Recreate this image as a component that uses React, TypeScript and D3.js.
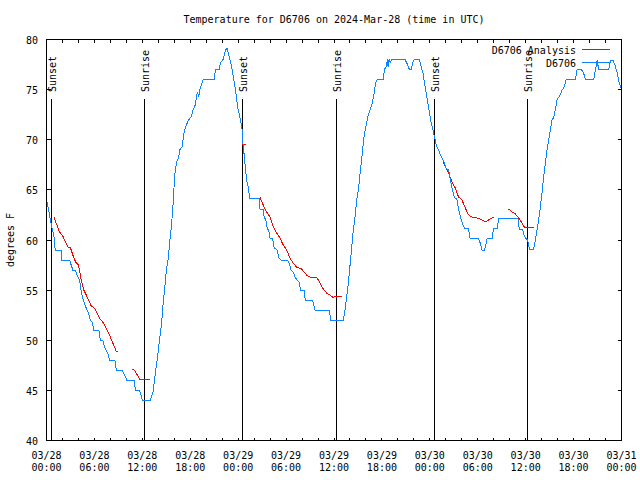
import React from 'react';
import * as d3 from 'd3';

// hours since 2024-03-28 00:00 UTC
const obsHours = [
  0, 0.54, 0.97, 1.09, 1.88, 1.9, 2.89, 3.3, 3.64, 3.8, 4.14, 4.39, 4.6, 4.98, 5.27, 5.48, 5.73, 5.93, 6.56, 6.74,
  7.06, 7.28, 7.69, 7.9, 8.57, 8.74, 9.5, 10.07, 11.0, 11.13, 11.67, 12.0, 13.0, 13.33, 13.55, 13.76, 13.96, 14.17, 14.39, 14.59,
  14.8, 15.01, 15.22, 15.43, 15.64, 15.84, 16.06, 16.27, 16.56, 16.68, 16.97, 17.22, 17.52, 17.81, 18.15, 18.35, 18.65, 18.78, 18.9, 19.07,
  19.19, 19.48, 19.61, 20.99, 21.16, 21.61, 21.79, 22.11, 22.42, 22.62, 22.87, 23.17, 23.46, 23.71, 23.92, 24.21, 24.5, 24.55, 24.75, 25.05,
  25.25, 25.46, 26.63, 26.72, 27.13, 27.26, 27.47, 27.63, 27.85, 27.97, 28.31, 28.51, 28.89, 29.1, 29.35, 30.14, 30.39, 30.61, 30.9, 31.11,
  31.4, 31.65, 31.82, 32.24, 32.4, 33.33, 33.62, 35.41, 35.59, 37.17, 37.38, 37.59, 37.79, 38.01, 38.22, 38.42, 38.63, 38.85, 39.05, 39.35,
  39.55, 39.76, 39.98, 40.3, 40.52, 40.73, 40.93, 41.23, 41.43, 42.19, 42.31, 42.52, 42.69, 42.77, 42.9, 43.03, 43.24, 44.91, 45.2, 45.45,
  45.66, 45.87, 46.04, 46.7, 46.91, 47.13, 47.33, 47.54, 47.75, 47.95, 48.17, 48.38, 48.58, 48.79, 49.08, 49.3, 49.51, 49.84, 50.05, 50.34,
  50.46, 50.64, 50.84, 51.09, 51.39, 51.55, 51.72, 51.93, 52.14, 52.43, 52.85, 53.06, 54.1, 54.31, 54.53, 54.85, 55.07, 55.16, 55.78, 55.98,
  56.41, 56.61, 59.04, 59.2, 59.62, 59.83, 60.08, 60.25, 60.46, 61.0, 61.21, 61.43, 61.63, 61.84, 62.05, 62.26, 62.47, 62.68, 62.88, 63.1,
  63.31, 63.51, 63.72, 63.94, 64.35, 64.56, 64.76, 65.06, 66.23, 66.44, 66.98, 67.27, 67.49, 68.53, 68.74, 68.95, 69.15, 70.41, 70.62, 70.96,
  71.16, 71.46, 71.66, 72.0,
];
const obsTemps = [
  64.1, 61.8, 60.2, 59, 59, 58, 58, 57, 57, 56.5, 56, 54.7, 54, 53.2, 52.7, 52, 51.8, 51, 51, 50,
  50, 49.3, 48.7, 48, 48, 47, 47, 46, 46, 45, 45, 44, 44, 44.8, 46.2, 47.5, 48.7, 50.2, 51.5, 53.5,
  55.2, 57, 58, 59.8, 61.3, 63.5, 66.5, 67.7, 68.3, 69, 69.3, 70.7, 71.5, 72, 72.3, 73, 73.5, 74.3, 74.8, 74.3,
  75, 75.7, 76, 76, 77, 77, 77.7, 78, 79, 79.1, 78.3, 77.3, 76, 74.7, 73.3, 72.3, 71, 70, 68.5, 66,
  65.3, 64.1, 64.1, 63.1, 63, 62.3, 62, 61.2, 60.9, 60.2, 60.1, 59.2, 59, 58.2, 58, 58, 57.7, 57, 56.8, 56.3,
  56, 55.8, 55, 55, 54, 54, 53, 53, 52, 52, 53, 54.3, 55.7, 57.5, 59.3, 61, 62.3, 64, 65, 67.3,
  68.7, 70.3, 71.3, 72.5, 73, 73.5, 74.2, 75.7, 76, 76, 77, 77.3, 78, 77.3, 78, 77.7, 78, 78, 77.5, 77,
  77, 77.7, 78, 78, 77.3, 76.7, 75.7, 74.7, 73.7, 72.7, 71.7, 71, 70.3, 69.5, 69, 68.5, 68.2, 67.7, 67.1, 67,
  66.5, 65.7, 65, 64.2, 64.1, 63.3, 62.7, 62, 61.5, 61.1, 61.1, 60.1, 60.1, 59.7, 59, 59, 59.7, 60.1, 60.1, 61.1,
  61.1, 62.1, 62.1, 61.1, 61, 60.4, 60.1, 60, 59.1, 59.1, 60, 61, 62, 63.3, 64.7, 66.3, 67.7, 69, 70, 71,
  72, 72.2, 73, 74, 74.5, 75, 75.1, 76, 76, 77, 77, 76.6, 76, 76, 77, 77.9, 77, 77, 77.9, 77.9,
  77.5, 76.7, 75.8, 75,
];

// analysis series; null marks a gap
const anaHours = [
  0.92, 1.63, 2.04, 2.67, 3.01, 3.3, 3.64, 3.93, 4.14, 4.35, 4.68, 4.98, 5.61, 6.02, 6.65, 7.06, 7.49, 7.9, 8.32, 8.74, 8.99,
  9.5,
  10.66, 11.04, 11.67, 13.0,
  18.0,
  24.5, 25.0,
  25.8,
  26.72, 27.13, 27.56, 27.97, 28.39, 28.81, 29.23, 29.64, 30.07, 30.48, 30.9, 31.32, 31.95, 32.58, 32.99, 33.91, 34.24, 34.66, 35.09, 35.5, 35.84, 36.97,
  42.0,
  49.67, 50.34, 50.76, 51.18, 51.59, 52.02, 52.43, 52.85, 53.27, 53.9, 54.53, 54.94, 55.36, 55.78, 55.98,
  57.0,
  57.86, 58.29, 58.7, 59.12, 59.54, 59.83, 60.25, 61.0,
];
const anaTemps: (number | null)[] = [
  62.3, 60.8, 60.4, 59.3, 59.2, 58.5, 57.8, 57.6, 57, 56, 55, 54.5, 53.4, 53.2, 52.2, 51.8, 51.2, 50.5, 49.7, 48.9, 48.9,
  null,
  47.1, 47, 46.1, 46.1,
  null,
  69.5, 69.5,
  null,
  64.3, 63.5, 62.8, 62.3, 61.3, 60.7, 60.2, 59.5, 59, 58.2, 57.7, 57.3, 57.1, 56.5, 56.3, 56.2, 55.7, 55.1, 54.7, 54.5, 54.3, 54.4,
  null,
  67.8, 66.7, 65.8, 65.2, 64.3, 64, 63.2, 62.5, 62.3, 62.2, 62, 61.8, 62, 62.2, 62.2,
  null,
  63.1, 62.8, 62.6, 62.2, 61.7, 61.3, 61.2, 61.2,
];

const sunEventHours = [0.63, 12.27, 24.55, 36.28, 48.58, 60.22];
const sunEventLabels = ['Sunset', 'Sunrise', 'Sunset', 'Sunrise', 'Sunset', 'Sunrise'];

const xTickHours = [0, 6, 12, 18, 24, 30, 36, 42, 48, 54, 60, 66, 72];
const xTickDates = ['03/28', '03/28', '03/28', '03/28', '03/29', '03/29', '03/29', '03/29', '03/30', '03/30', '03/30', '03/30', '03/31'];
const xTickTimes = ['00:00', '06:00', '12:00', '18:00', '00:00', '06:00', '12:00', '18:00', '00:00', '06:00', '12:00', '18:00', '00:00'];
const xMinorHours = d3.range(0, 73, 2);
const yTicks = [40, 45, 50, 55, 60, 65, 70, 75, 80];

const seriesNames = ['D6706 Analysis', 'D6706'];
const seriesColors = ['#ff0000', '#0a84ff'];

const FONT = '"DejaVu Sans Mono", monospace';

export default function App() {
  const x = d3.scaleLinear().domain([0, 72]).range([46.5, 621.5]);
  const y = d3.scaleLinear().domain([40, 80]).range([440.5, 39.5]);
  const [x0, x1] = x.range();
  const [y0, y1] = y.range();

  const obs: [number, number][] = obsHours.map((h, i) => [h, obsTemps[i]]);
  const ana: [number, number | null][] = anaHours.map((h, i) => [h, anaTemps[i]]);

  const lineObs = d3.line<[number, number]>().x(d => x(d[0])).y(d => y(d[1]));
  const lineAna = d3
    .line<[number, number | null]>()
    .defined(d => d[1] != null)
    .x(d => x(d[0]))
    .y(d => y(d[1] as number));

  return (
    <svg
      width={640}
      height={480}
      style={{ position: 'absolute', left: 0, top: 0, background: '#fff' }}
      fontFamily={FONT}
      fontSize={10}
    >
      <rect x={0} y={0} width={640} height={480} fill="#fff" />
      <text x={334} y={23} textAnchor="middle" fill="#000">
        Temperature for D6706 on 2024-Mar-28 (time in UTC)
      </text>

      {/* y ticks & labels */}
      {yTicks.map(t => (
        <g key={'y' + t}>
          <line x1={x0} x2={x0 + 4} y1={Math.round(y(t) - 0.5) + 0.5} y2={Math.round(y(t) - 0.5) + 0.5} stroke="#000" shapeRendering="crispEdges" />
          <line x1={x1} x2={x1 - 4} y1={Math.round(y(t) - 0.5) + 0.5} y2={Math.round(y(t) - 0.5) + 0.5} stroke="#000" shapeRendering="crispEdges" />
          <text x={38} y={y(t) + 4.5} textAnchor="end" fill="#000">
            {t}
          </text>
        </g>
      ))}

      {/* x ticks */}
      {xMinorHours.map(h => (
        <g key={'xm' + h}>
          <line x1={x(h)} x2={x(h)} y1={y0} y2={y0 - 3} stroke="#000" shapeRendering="crispEdges" />
          <line x1={x(h)} x2={x(h)} y1={y1} y2={y1 + 3} stroke="#000" shapeRendering="crispEdges" />
        </g>
      ))}
      {xTickHours.map((h, i) => (
        <g key={'xl' + h}>
          <text x={x(h)} y={458.5} textAnchor="middle" fill="#000">
            {xTickDates[i]}
          </text>
          <text x={x(h)} y={470.5} textAnchor="middle" fill="#000">
            {xTickTimes[i]}
          </text>
        </g>
      ))}

      <text transform="translate(13.5,240) rotate(-90)" textAnchor="middle" fill="#000">
        degrees F
      </text>

      {/* sunrise / sunset markers */}
      {sunEventHours.map((h, i) => {
        const px = Math.floor(x(h)) + 0.5;
        return (
          <g key={'s' + i}>
            <line x1={px} x2={px} y1={99} y2={y0} stroke="#000" shapeRendering="crispEdges" />
            <text transform={`translate(${px + 4.5},92) rotate(-90)`} textAnchor="start" fill="#000">
              {sunEventLabels[i]}
            </text>
          </g>
        );
      })}

      {/* data */}
      <path d={lineAna(ana) || ''} fill="none" stroke={seriesColors[0]} strokeWidth={1} shapeRendering="crispEdges" />
      <path d={lineObs(obs) || ''} fill="none" stroke={seriesColors[1]} strokeWidth={1} shapeRendering="crispEdges" />

      {/* legend */}
      {seriesNames.map((n, i) => (
        <g key={'lg' + i}>
          <text x={576} y={53.5 + i * 13} textAnchor="end" fill="#000">
            {n}
          </text>
          <line x1={582} x2={610} y1={49.5 + i * 13} y2={49.5 + i * 13} stroke={seriesColors[i]} shapeRendering="crispEdges" />
        </g>
      ))}

      {/* frame */}
      <rect x={x0} y={y1} width={x1 - x0} height={y0 - y1} fill="none" stroke="#000" shapeRendering="crispEdges" />
    </svg>
  );
}
